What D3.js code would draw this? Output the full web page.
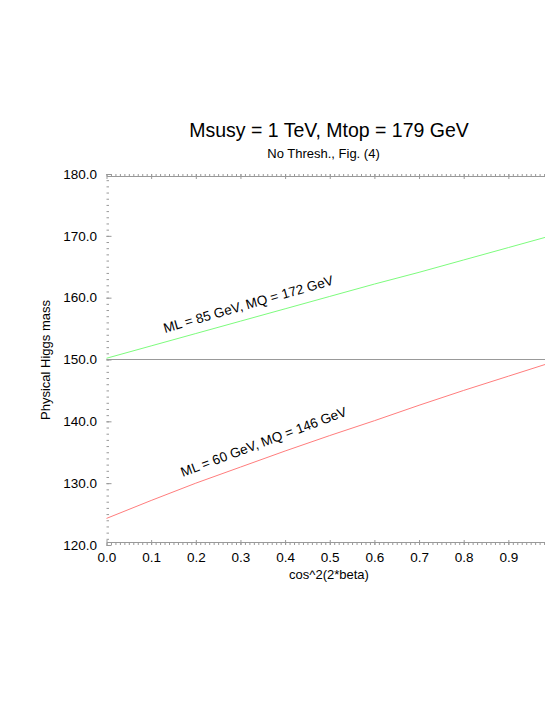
<!DOCTYPE html>
<html>
<head>
<meta charset="utf-8">
<script src="https://cdn.jsdelivr.net/npm/d3@7"></script>
<style>
  body { margin: 0; background: #fff; }
  svg { display: block; font-family: "Liberation Sans", Arial, sans-serif; }
  .axis path, .axis line { stroke: #999; }
  .axis text { fill: #000; font-size: 13.5px; }
</style>
</head>
<body>
<svg id="chart" width="545" height="705"></svg>
<script>
// cos^2(2*beta) sample points
const cos2beta = [0.0, 0.1, 0.2, 0.3, 0.4, 0.5, 0.6, 0.7, 0.8, 0.9, 1.0]
// ML = 85 GeV, MQ = 172 GeV
const higgsGreen = [150.2, 152.2, 154.2, 156.2, 158.2, 160.2, 162.2, 164.1, 166.1, 168.1, 170.1]
// ML = 60 GeV, MQ = 146 GeV
const higgsRed = [124.3, 127.2, 130.0, 132.6, 135.2, 137.7, 140.1, 142.6, 145.0, 147.3, 149.6]
const refLine = 150
const xTicks = [0.0, 0.1, 0.2, 0.3, 0.4, 0.5, 0.6, 0.7, 0.8, 0.9]
const yTicks = [120, 130, 140, 150, 160, 170, 180]
const labels = [
  { text: 'ML = 85 GeV, MQ = 172 GeV', x: 0.131, y: 154.3, angle: -16 },
  { text: 'ML = 60 GeV, MQ = 146 GeV', x: 0.171, y: 131.0, angle: -20.5 }
]

const svg = d3.select('#chart')
const margin = { top: 174, left: 106.5, bottom: 160, right: -8 }
const width = +svg.attr('width') - margin.left - margin.right
const height = +svg.attr('height') - margin.top - margin.bottom

const xScale = d3.scaleLinear().domain([0, 1]).range([0, width])
const yScale = d3.scaleLinear().domain([120, 180]).range([height, 0])

const g = svg.append('g').attr('transform', `translate(${margin.left},${margin.top})`)

// minor ticks
const xMinor = d3.range(0, 1.0001, 0.01)
const yMinor = d3.range(120, 180.001, 1)
const fmt = d3.format('.1f')

g.append('g').classed('axis', true).attr('transform', `translate(0,${height})`)
  .call(d3.axisBottom(xScale).tickValues(xMinor).tickSize(-2.5).tickFormat(''))
g.append('g').classed('axis', true).attr('transform', `translate(0,${height})`)
  .call(d3.axisBottom(xScale).tickValues(xTicks).tickSize(-5).tickPadding(7.5).tickFormat(fmt))
  .call(a => a.select('.domain').remove())
g.append('g').classed('axis', true)
  .call(d3.axisTop(xScale).tickValues(xMinor).tickSize(-2.5).tickFormat(''))
g.append('g').classed('axis', true)
  .call(d3.axisTop(xScale).tickValues(xTicks).tickSize(-5).tickFormat(''))
  .call(a => a.select('.domain').remove())
g.append('g').classed('axis', true)
  .call(d3.axisLeft(yScale).tickValues(yMinor).tickSize(-2.5).tickFormat(''))
g.append('g').classed('axis', true)
  .call(d3.axisLeft(yScale).tickValues(yTicks).tickSize(-5).tickPadding(9.5).tickFormat(fmt))
  .call(a => a.select('.domain').remove())
g.selectAll('.axis .domain').attr('d', function () { return d3.select(this).attr('d').replace(/V-?[\d.]+/g, '') })

// reference line at 150
g.append('line')
  .attr('x1', 0).attr('x2', width)
  .attr('y1', yScale(refLine)).attr('y2', yScale(refLine))
  .attr('stroke', '#999').attr('stroke-width', 1.2)

const line = d3.line().x((d, i) => xScale(cos2beta[i])).y(d => yScale(d))
g.append('path').datum(higgsGreen).attr('d', line)
  .attr('fill', 'none').attr('stroke', '#7dfc7d').attr('stroke-width', 1)
g.append('path').datum(higgsRed).attr('d', line)
  .attr('fill', 'none').attr('stroke', '#ff7d7d').attr('stroke-width', 1)

g.selectAll('.curve-label').data(labels).enter().append('text')
  .attr('transform', d => `translate(${xScale(d.x)},${yScale(d.y)}) rotate(${d.angle})`)
  .attr('font-size', 13.5)
  .text(d => d.text)

// titles
svg.append('text').attr('x', 329).attr('y', 137).attr('text-anchor', 'middle')
  .attr('font-size', 19.5).text('Msusy = 1 TeV, Mtop = 179 GeV')
svg.append('text').attr('x', 323.5).attr('y', 158).attr('text-anchor', 'middle')
  .attr('font-size', 13).text('No Thresh., Fig. (4)')
svg.append('text').attr('x', 329).attr('y', 579).attr('text-anchor', 'middle')
  .attr('font-size', 13).text('cos^2(2*beta)')
svg.append('text').attr('transform', 'translate(50,360) rotate(-90)').attr('text-anchor', 'middle')
  .attr('font-size', 13).text('Physical Higgs mass')
</script>
</body>
</html>
